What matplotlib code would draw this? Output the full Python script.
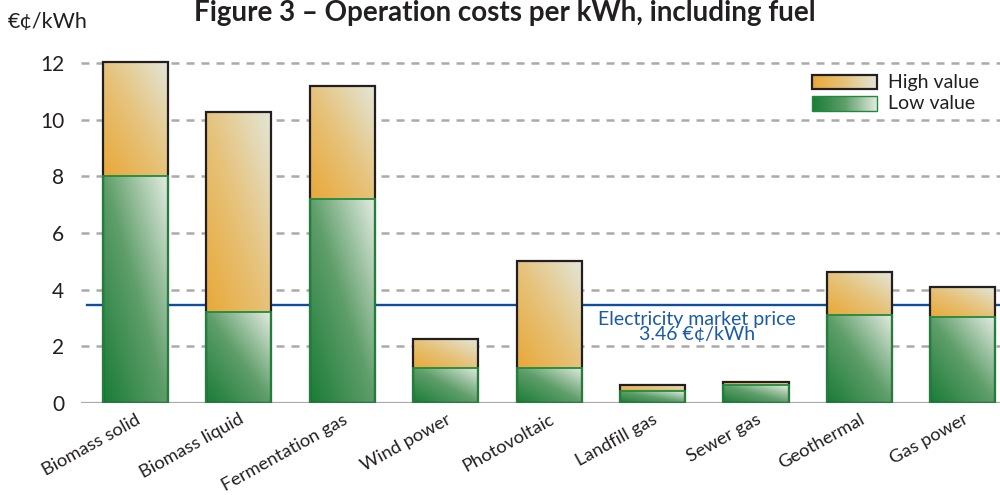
import matplotlib
matplotlib.use('Agg')
import matplotlib.pyplot as plt
import matplotlib.transforms as mtransforms
import numpy as np
from matplotlib.colors import LinearSegmentedColormap

plt.rcParams['font.family'] = ['Lato', 'DejaVu Sans']

# Data (€¢/kWh)
categories = ['Biomass solid', 'Biomass liquid', 'Fermentation gas', 'Wind power',
              'Photovoltaic', 'Landfill gas', 'Sewer gas', 'Geothermal', 'Gas power']
low_values = [8.0, 3.2, 7.2, 1.25, 1.25, 0.42, 0.63, 3.12, 3.02]
high_values = [12.05, 10.27, 11.17, 2.26, 5.02, 0.62, 0.74, 4.61, 4.09]
market_price = 3.46
y_ticks = [0, 2, 4, 6, 8, 10, 12]

# colours
orange_cmap = LinearSegmentedColormap.from_list('orange', ['#e9a838', '#e6c37c', '#e3e6d8'])
green_cmap = LinearSegmentedColormap.from_list('green', ['#1a7c37', '#5f9e6a', '#e4ece2'])
grid_color = '#aaaaaa'
blue = '#0d4f9c'
text_color = '#231f20'


def diag_gradient(n=64):
    u, v = np.meshgrid(np.linspace(0, 1, n), np.linspace(0, 1, n))
    return (u + v) / 2.0


def fill_bars(ax, bars, cmap):
    grad = diag_gradient()
    for b in bars:
        x0, y0 = b.get_x(), b.get_y()
        w, h = b.get_width(), b.get_height()
        if h <= 0:
            continue
        im = ax.imshow(grad, cmap=cmap, origin='lower', aspect='auto',
                       extent=(x0, x0 + w, y0, y0 + h), zorder=2, interpolation='bilinear')
        im.set_clip_path(b)


fig = plt.figure(figsize=(10, 4.95), dpi=100)
ax = fig.add_axes([0.081, 0.186, 0.919, 0.7154])

x = np.arange(len(categories))
width = 0.63

# gradient segments, then outlines (black for whole bar, green for low part)
seg_high = [h - l for h, l in zip(high_values, low_values)]
high_bars = ax.bar(x, seg_high, width, bottom=low_values, facecolor='none',
                   edgecolor='none', zorder=2)
low_bars = ax.bar(x, low_values, width, facecolor='none', edgecolor='none', zorder=2)
fill_bars(ax, high_bars, orange_cmap)
fill_bars(ax, low_bars, green_cmap)
ax.bar(x, high_values, width, facecolor='none', edgecolor='#231f20', linewidth=1.6, zorder=3)
ax.bar(x, low_values, width, facecolor='none', edgecolor='#1f8a3e', linewidth=1.3, zorder=4)

# grid and baseline
for yt in y_ticks[1:]:
    ax.axhline(yt, color=grid_color, lw=1.8, linestyle=(0, (3.2, 2.8)), zorder=1)
ax.axhline(0, color=grid_color, lw=1.6, zorder=1)

# market price line
ax.axhline(market_price, xmin=0.007, xmax=1, color=blue, lw=1.7, zorder=1.5)
ax.text(5.43, market_price - 0.2, 'Electricity market price\n3.46 €¢/kWh',
        color='#1a5aa6', fontsize=14, ha='center', va='top', linespacing=0.9, zorder=5)

ax.set_xlim(-0.527, 8.36)
ax.set_ylim(0, 12.5)
ax.set_yticks(y_ticks)
ax.set_yticklabels([str(v) for v in y_ticks], fontsize=15, color=text_color)
ax.set_xticks(x)
ax.set_xticklabels(categories, rotation=29, ha='right', rotation_mode='anchor',
                   fontsize=13.2, color=text_color)
offset = mtransforms.ScaledTranslation(0.12, 0, fig.dpi_scale_trans)
for lbl in ax.get_xticklabels():
    lbl.set_transform(lbl.get_transform() + offset)
ax.tick_params(axis='both', length=0)
ax.tick_params(axis='y', pad=12)
ax.tick_params(axis='x', pad=6)
for s in ax.spines.values():
    s.set_visible(False)

# legend with gradient swatches
lg = np.tile(np.linspace(0, 1, 64), (8, 1))
ax.imshow(lg, cmap=orange_cmap, aspect='auto', extent=(0.795, 0.866, 0.887, 0.926),
          transform=ax.transAxes, zorder=6)
ax.add_patch(plt.Rectangle((0.795, 0.887), 0.071, 0.039, transform=ax.transAxes,
                           fill=False, edgecolor='#231f20', lw=1.6, zorder=7))
ax.imshow(lg, cmap=green_cmap, aspect='auto', extent=(0.795, 0.866, 0.825, 0.867),
          transform=ax.transAxes, zorder=6)
ax.add_patch(plt.Rectangle((0.795, 0.825), 0.071, 0.042, transform=ax.transAxes,
                           fill=False, edgecolor='#1f8a3e', lw=1.0, zorder=7))
ax.text(0.878, 0.905, 'High value', transform=ax.transAxes, fontsize=14,
        va='center', ha='left', color=text_color)
ax.text(0.878, 0.846, 'Low value', transform=ax.transAxes, fontsize=14,
        va='center', ha='left', color=text_color)

# unit label and title
fig.text(0.008, 0.955, '€¢/kWh', fontsize=15.5, color=text_color, va='center', ha='left')
fig.text(0.505, 1 - 21 / 495, 'Figure 3 – Operation costs per kWh, including fuel',
         fontsize=20, fontweight='bold', color=text_color, ha='center', va='baseline')

fig.savefig('out.png', dpi=100)
